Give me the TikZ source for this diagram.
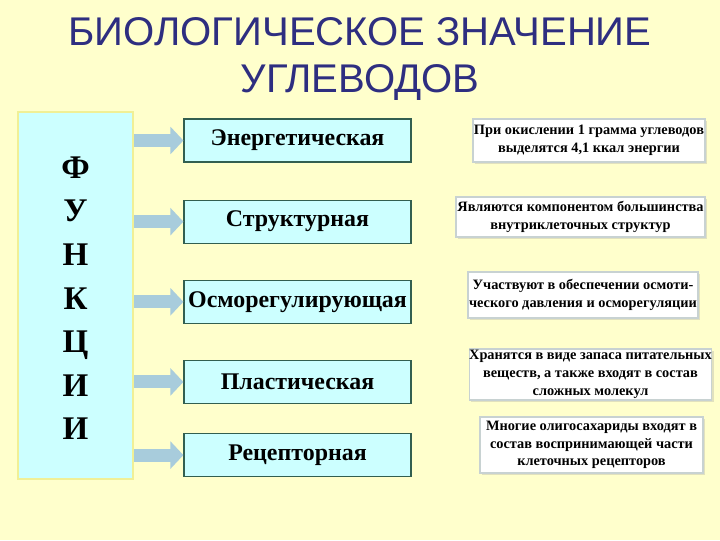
\documentclass[tikz,border=0pt]{standalone}
\usepackage{fontspec}
\setmainfont{Liberation Serif}
\newfontfamily\titlefont{Liberation Sans}
\usetikzlibrary{arrows.meta, positioning, shadows}
\definecolor{slidebg}{RGB}{255,255,204}
\definecolor{titleblue}{RGB}{46,46,128}
\definecolor{paleaqua}{RGB}{204,255,255}
\definecolor{boxgreen}{RGB}{50,95,80}
\definecolor{arrowblue}{RGB}{168,204,220}
\definecolor{paleyellow}{RGB}{240,240,150}
\definecolor{notegray}{RGB}{200,210,210}
\definecolor{shadowtone}{RGB}{225,225,190}

\begin{document}
\begin{tikzpicture}[
    x=0.025cm, y=-0.025cm,
    funcbox/.style={rectangle, draw=boxgreen, fill=paleaqua, line width=0.8pt, minimum width=5.675cm, minimum height=1.075cm, inner sep=0pt, font=\fontsize{17}{19}\selectfont\bfseries},
    notebox/.style={rectangle, draw=notegray, fill=white, line width=0.8pt, inner sep=0pt, align=center, font=\fontsize{10.2}{12.6}\selectfont\bfseries, drop shadow={shadow xshift=1.5pt, shadow yshift=-1.5pt, fill=shadowtone, opacity=1}},
    flowarrow/.style={draw=arrowblue, line width=9.2pt, -{Triangle[length=9.2pt, width=19pt]}}
]
\useasboundingbox[fill=slidebg] (0,0) rectangle (720,540);

\node[text=titleblue, align=center, font=\titlefont\fontsize{28.5}{33}\selectfont] (title) at (360,59) {БИОЛОГИЧЕСКОЕ ЗНАЧЕНИЕ\\УГЛЕВОДОВ};

% left column
\node[rectangle, draw=paleyellow, fill=paleaqua, line width=2pt, minimum width=2.875cm, minimum height=9.175cm] (func) at (75.5,295.5) {};
\node[align=center, font=\fontsize{23.5}{31}\selectfont\bfseries] (funcletters) at ([yshift=-2pt]func.center) {Ф\\У\\Н\\К\\Ц\\И\\И};

% middle column
\node[funcbox] (en) at (297.5,140.5) {Энергетическая};
\node[funcbox, below=0.925cm of en] (st) {Структурная};
\node[funcbox, below=0.9cm of st] (os) {Осморегулирующая};
\node[funcbox, below=0.9cm of os] (pl) {Пластическая};
\node[funcbox, below=0.725cm of pl] (re) {Рецепторная};

% right column
\node[notebox, minimum width=5.8cm, minimum height=1.075cm] (enote) at (589,140.5) {При окислении 1 грамма углеводов\\выделятся 4,1 ккал энергии};
\node[notebox, minimum width=6.225cm, minimum height=1cm] (snote) at (580.5,217) {Являются компонентом большинства\\внутриклеточных структур};
\node[notebox, minimum width=5.75cm, minimum height=1.15cm] (onote) at (583,295) {Участвуют в обеспечении осмоти-\\ческого давления и осморегуляции};
\node[notebox, minimum width=5.875cm, minimum height=1.275cm] (pnote) at (590.5,374.5) {Хранятся в виде запаса питательных\\веществ, а также входят в состав\\сложных молекул};
\node[notebox, minimum width=5.575cm, minimum height=1.4cm] (rnote) at (591.5,445) {Многие олигосахариды входят в\\состав воспринимающей части\\клеточных рецепторов};

\draw[flowarrow] (func.east |- en.west) -- (en.west);
\draw[flowarrow] (func.east |- st.west) -- (st.west);
\draw[flowarrow] (func.east |- os.west) -- (os.west);
\draw[flowarrow] (func.east |- pl.west) -- (pl.west);
\draw[flowarrow] (func.east |- re.west) -- (re.west);
\end{tikzpicture}
\end{document}
